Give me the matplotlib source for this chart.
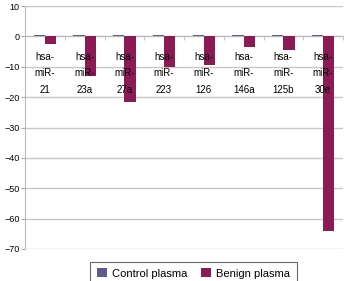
import matplotlib
matplotlib.use("Agg")
import matplotlib.pyplot as plt
import numpy as np

categories = ["21", "23a", "27a", "223", "126", "146a", "125b", "30e"]
control = [0.6, 0.6, 0.6, 0.6, 0.6, 0.6, 0.6, 0.6]
benign = [-2.4, -13.2, -21.6, -10.2, -9.3, -3.5, -4.6, -64.1]

plt.rcParams["font.family"] = ["Liberation Sans", "DejaVu Sans"]

fig = plt.figure(figsize=(3.47, 2.81), dpi=100)
ax = fig.add_axes([25 / 347, 1 - 249 / 281, 318 / 347, 243 / 281])

x = np.arange(len(categories))
w = 0.28
ax.bar(x - w / 2, control, w, color="#5c5a8e", label="Control plasma", zorder=3)
ax.bar(x + w / 2, benign, w, color="#8c1a55", label="Benign plasma", zorder=3)

ax.set_xlim(-0.5, len(categories) - 0.5)
ax.set_ylim(-70, 10)
ax.set_yticks(np.arange(-70, 11, 10))
ax.yaxis.grid(True, color="#c8c8c8", linewidth=1.0, zorder=0)
ax.tick_params(axis="y", labelsize=6.5, length=3, color="#aaaaaa", pad=1)

ax.spines[["top", "right"]].set_visible(False)
ax.spines["left"].set_color("#bbbbbb")
ax.spines["bottom"].set_position(("data", 0))
ax.spines["bottom"].set_color("#bbbbbb")
ax.spines["bottom"].set_zorder(2)

# category labels sit on top of the bars, like the original
ax.xaxis.set_zorder(4)
ax.set_xticks(x)
ax.set_xticklabels(["hsa-\nmiR-\n" + c for c in categories], linespacing=1.85)
ax.tick_params(axis="x", which="major", length=0, labelsize=7, pad=11)
ax.set_xticks(np.arange(-0.5, len(categories), 1.0), minor=True)
ax.tick_params(axis="x", which="minor", length=3, color="#bbbbbb")

leg = fig.legend(loc="upper center", bbox_to_anchor=(193.5 / 347, 1 - 256 / 281),
                 ncol=2, fontsize=8, frameon=True, fancybox=False,
                 handlelength=0.9, handleheight=0.9, handletextpad=0.4,
                 columnspacing=1.3, borderpad=0.6)
leg.get_frame().set_edgecolor("#444444")
leg.get_frame().set_linewidth(0.8)

fig.savefig("out.png", dpi=100)
